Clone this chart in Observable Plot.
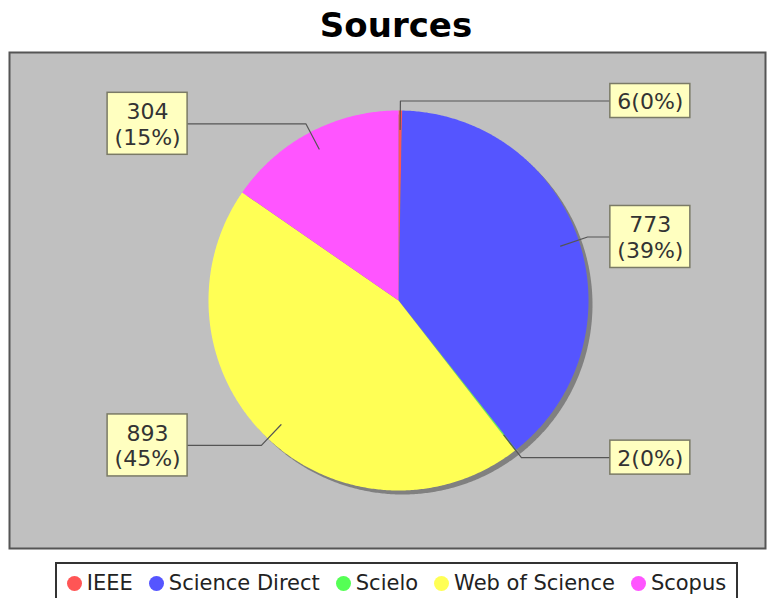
<!DOCTYPE html>
<html>
<head>
<meta charset="utf-8">
<script src="https://cdn.jsdelivr.net/npm/d3@7"></script>
<script src="https://cdn.jsdelivr.net/npm/@observablehq/plot@0.6"></script>
<style>
  html, body { margin: 0; padding: 0; background: #fff; }
  body { width: 774px; height: 598px; overflow: hidden; position: relative; font-family: "DejaVu Sans", sans-serif; }
  #title { position: absolute; top: 9px; left: 9px; width: 774px; text-align: center; font-weight: bold; font-size: 34px; line-height: 33px; color: #000; }
  #chart { position: absolute; top: 0; left: 0; }
  #legend { position: absolute; left: 55px; top: 562px; width: 683px; height: 50px; border: 2px solid #333; background: #fff;
            display: flex; justify-content: center; align-items: flex-start; padding-top: 9px; box-sizing: border-box; }
  .item { display: flex; align-items: center; font-size: 21px; line-height: 21px; color: #222; margin: 0 8px; white-space: nowrap; }
  .dot { width: 15px; height: 15px; border-radius: 50%; margin-right: 5px; }
</style>
</head>
<body>
<div id="chart"></div>
<div id="title"></div>
<div id="legend"></div>
<script>
const title = "Sources";
const names = ["IEEE", "Science Direct", "Scielo", "Web of Science", "Scopus"];
const counts = [6, 773, 2, 893, 304];
const colors = ["#ff5555", "#5555ff", "#55ff55", "#ffff55", "#ff55ff"];

document.getElementById("title").textContent = title;

const total = d3.sum(counts);
const arcs = d3.pie().sort(null).value(d => d)(counts);

// slice polygons in unit-circle coordinates (angle clockwise from 12 o'clock)
function slicePoints(a, key) {
  const pts = [{x: 0, y: 0, key}];
  const n = Math.max(2, Math.ceil((a.endAngle - a.startAngle) / (Math.PI / 360)));
  for (let i = 0; i <= n; i++) {
    const t = a.startAngle + (a.endAngle - a.startAngle) * i / n;
    pts.push({x: Math.sin(t), y: Math.cos(t), key});
  }
  return pts;
}
const slices = arcs.map((a, i) => ({name: names[i], color: colors[i], points: slicePoints(a, names[i])}));
const allPoints = slices.flatMap(s => s.points);

// labels
const leftEdge = -1.11, rightEdge = 1.115;  // label column edges (units of radius)
const boxW = 80 / 190;
const labels = arcs.map((a, i) => {
  const mid = (a.startAngle + a.endAngle) / 2;
  const pct = Math.round(counts[i] / total * 100);
  const twoLine = pct > 0;
  const text = twoLine ? `${counts[i]}\n(${pct}%)` : `${counts[i]}(${pct}%)`;
  const bx = Math.sin(mid) * 1.05, by = Math.cos(mid) * 1.05;
  const right = Math.sin(mid) >= 0;
  const h = (twoLine ? 62 : 34) / 190;
  const x1 = right ? rightEdge : leftEdge - boxW;
  const x2 = right ? rightEdge + boxW : leftEdge;
  return {
    name: names[i], text, cy: by, cx: (x1 + x2) / 2,
    x1, x2, y1: by - h / 2, y2: by + h / 2,
    link: [
      {x: Math.sin(mid) * 0.9, y: Math.cos(mid) * 0.9, key: names[i]},
      {x: bx, y: by, key: names[i]},
      {x: right ? rightEdge : leftEdge, y: by, key: names[i]}
    ]
  };
});
const links = labels.flatMap(l => l.link);

const chart = Plot.plot({
  width: 774,
  height: 598,
  marginTop: 52,
  marginLeft: 9,
  marginRight: 9,
  marginBottom: 50,
  style: {fontFamily: "DejaVu Sans", background: "transparent"},
  x: {domain: [-1, 1], range: [208, 588], axis: null},
  y: {domain: [-1, 1], range: [490, 110], axis: null},
  marks: [
    Plot.frame({fill: "#c0c0c0", stroke: "#555", strokeWidth: 2}),
    Plot.line(allPoints, {x: "x", y: "y", z: "key", fill: "#808080", stroke: "none", curve: "linear-closed", dx: 4, dy: 4}),
    ...slices.map(s => Plot.line(s.points, {x: "x", y: "y", fill: s.color, stroke: "none", curve: "linear-closed"})),
    Plot.line(links, {x: "x", y: "y", z: "key", stroke: "#555", strokeWidth: 1.2, curve: "linear"}),
    Plot.rect(labels, {x1: "x1", x2: "x2", y1: "y1", y2: "y2", fill: "#ffffc0", stroke: "#7a7a66", strokeWidth: 1.5}),
    Plot.text(labels, {x: "cx", y: "cy", text: "text", fontSize: 22, lineHeight: 1.15, fill: "#333", fontFamily: "DejaVu Sans"})
  ]
});
document.getElementById("chart").appendChild(chart);

const legend = document.getElementById("legend");
names.forEach((n, i) => {
  const item = document.createElement("div");
  item.className = "item";
  const dot = document.createElement("span");
  dot.className = "dot";
  dot.style.background = colors[i];
  item.appendChild(dot);
  item.appendChild(document.createTextNode(n));
  legend.appendChild(item);
});
</script>
</body>
</html>
